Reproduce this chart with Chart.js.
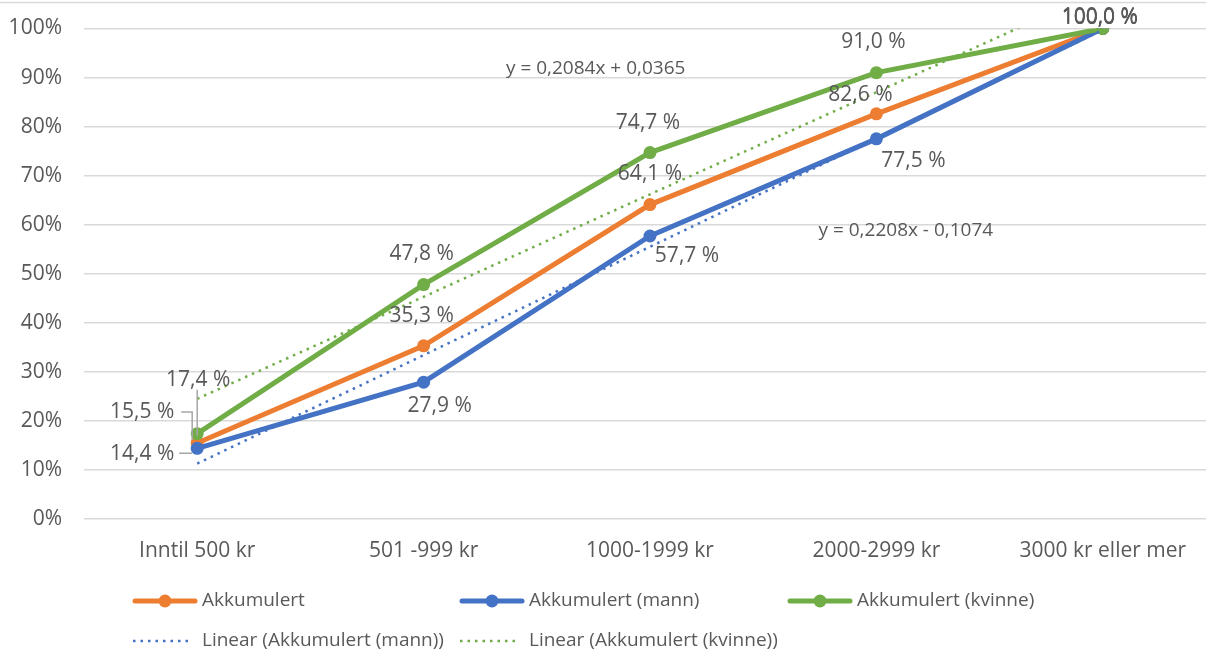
<!DOCTYPE html>
<html>
<head>
<meta charset="utf-8">
<script src="https://cdn.jsdelivr.net/npm/chart.js@4"></script>
<style>
html,body{margin:0;padding:0;background:#fff;overflow:hidden;}
#wrap{width:1216px;height:653px;}
</style>
</head>
<body>
<div id="wrap"><canvas id="c" width="1216" height="653"></canvas></div>
<script>
const categories = ['Inntil 500 kr', '501 -999 kr', '1000-1999 kr', '2000-2999 kr', '3000 kr eller mer'];
const akkumulert = [15.5, 35.3, 64.1, 82.6, 100.0];
const akkMann = [14.4, 27.9, 57.7, 77.5, 100.0];
const akkKvinne = [17.4, 47.8, 74.7, 91.0, 100.0];
const trendMann = [11.3, 33.4, 55.5, 77.6, 99.7];
const trendKvinne = [24.5, 45.3, 66.2, 87.0, 107.9];
const yTicks = [0, 10, 20, 30, 40, 50, 60, 70, 80, 90, 100];
const eqMann = 'y = 0,2208x - 0,1074';
const eqKvinne = 'y = 0,2084x + 0,0365';

const ORANGE = '#ED7D31', BLUE = '#4472C4', GREEN = '#70AD47', TXT = '#595959', GRID = '#D9D9D9';
const FONT = '"Open Sans", sans-serif';

// label offsets (px) relative to each point, per dataset
const labelOffsets = {
  0: [[-55, -31], [-2, -30], [0, -31], [-16, -19], [-3, -11]],
  1: [[-55, 6], [16, 24], [37, 20], [37, 22], [-3, -10]],
  2: [[1, -54], [-2, -31], [-2, -30], [-3, -31], [-3, -10]]
};

const fmt = v => v.toFixed(1).replace('.', ',') + ' %';
const noPad = s => {
  s._calculatePadding = function () { this.paddingLeft = 0; this.paddingRight = 0; this.paddingTop = 0; this.paddingBottom = 0; };
};

const labelPlugin = {
  id: 'labels',
  afterDatasetsDraw(chart) {
    const ctx = chart.ctx;
    ctx.save();
    // top border line
    ctx.strokeStyle = GRID; ctx.lineWidth = 1.5;
    ctx.beginPath(); ctx.moveTo(0, 2.5); ctx.lineTo(chart.width, 2.5); ctx.stroke();

    ctx.font = '21px ' + FONT;
    ctx.fillStyle = TXT;
    ctx.textAlign = 'center';
    ctx.textBaseline = 'middle';
    [0, 1, 2].forEach(di => {
      const meta = chart.getDatasetMeta(di);
      meta.data.forEach((pt, i) => {
        const [dx, dy] = labelOffsets[di][i];
        const v = chart.data.datasets[di].data[i];
        ctx.fillText(fmt(v), pt.x + dx, pt.y + dy);
      });
    });
    // leader lines at first category
    const p0 = chart.getDatasetMeta(0).data[0];
    const p1 = chart.getDatasetMeta(1).data[0];
    const p2 = chart.getDatasetMeta(2).data[0];
    ctx.strokeStyle = '#A6A6A6'; ctx.lineWidth = 1.5;
    ctx.beginPath();
    ctx.moveTo(p0.x - 16, p0.y - 31); ctx.lineTo(p0.x - 5, p0.y - 31); ctx.lineTo(p0.x - 5, p0.y - 3);
    ctx.moveTo(p1.x - 18, p1.y + 5); ctx.lineTo(p1.x - 5, p1.y + 5);
    ctx.moveTo(p2.x, p2.y - 44); ctx.lineTo(p2.x, p2.y + 2);
    ctx.stroke();

    // trendline equations
    const xs = chart.scales.x, ys = chart.scales.y;
    ctx.font = '19px ' + FONT;
    ctx.fillStyle = TXT;
    ctx.fillText(eqKvinne, xs.getPixelForValue(1.76), ys.getPixelForValue(91.8));
    ctx.fillText(eqMann, xs.getPixelForValue(3.13), ys.getPixelForValue(58.8));

    // legend
    const legend = [
      {x: 133, y: 601, text: 'Akkumulert', color: ORANGE, dotted: false},
      {x: 460, y: 601, text: 'Akkumulert (mann)', color: BLUE, dotted: false},
      {x: 788, y: 601, text: 'Akkumulert (kvinne)', color: GREEN, dotted: false},
      {x: 133, y: 641, text: 'Linear (Akkumulert (mann))', color: BLUE, dotted: true},
      {x: 460, y: 641, text: 'Linear (Akkumulert (kvinne))', color: GREEN, dotted: true}
    ];
    legend.forEach(l => {
      ctx.strokeStyle = l.color;
      if (l.dotted) {
        ctx.lineWidth = 2.5; ctx.setLineDash([2.5, 5]); ctx.lineCap = 'butt';
        ctx.beginPath(); ctx.moveTo(l.x, l.y); ctx.lineTo(l.x + 60, l.y); ctx.stroke();
        ctx.setLineDash([]);
      } else {
        ctx.lineWidth = 5; ctx.lineCap = 'round';
        ctx.beginPath(); ctx.moveTo(l.x + 2, l.y); ctx.lineTo(l.x + 62, l.y); ctx.stroke();
        ctx.fillStyle = l.color;
        ctx.beginPath(); ctx.arc(l.x + 32, l.y, 6.5, 0, Math.PI * 2); ctx.fill();
      }
      ctx.fillStyle = TXT; ctx.font = '19px ' + FONT; ctx.textAlign = 'left';
      ctx.fillText(l.text, l.x + 69, l.y);
    });
    ctx.restore();
  }
};

new Chart(document.getElementById('c'), {
  type: 'line',
  data: {
    labels: categories,
    datasets: [
      {label: 'Akkumulert', data: akkumulert, borderColor: ORANGE, backgroundColor: ORANGE, borderWidth: 5, pointRadius: 6.5, pointBorderWidth: 0, order: 2},
      {label: 'Akkumulert (mann)', data: akkMann, borderColor: BLUE, backgroundColor: BLUE, borderWidth: 5, pointRadius: 6.5, pointBorderWidth: 0, order: 1},
      {label: 'Akkumulert (kvinne)', data: akkKvinne, borderColor: GREEN, backgroundColor: GREEN, borderWidth: 5, pointRadius: 6.5, pointBorderWidth: 0, order: 0},
      {label: 'Linear (Akkumulert (mann))', data: trendMann, borderColor: BLUE, borderWidth: 2.5, borderDash: [2.5, 5], pointRadius: 0, order: -1},
      {label: 'Linear (Akkumulert (kvinne))', data: trendKvinne, borderColor: GREEN, borderWidth: 2.5, borderDash: [2.5, 5], pointRadius: 0, order: -1}
    ]
  },
  options: {
    responsive: false,
    animation: false,
    layout: {autoPadding: false, padding: {top: 28.5, left: 0, right: 0, bottom: 0}},
    plugins: {legend: {display: false}, tooltip: {enabled: false}},
    elements: {line: {tension: 0}},
    scales: {
      y: {
        min: 0, max: 100,
        beforeFit: noPad,
        afterBuildTicks: s => { s.ticks = yTicks.map(v => ({value: v})); },
        afterFit: s => { s.width = 84; s.paddingTop = 0; s.paddingBottom = 0; },
        ticks: {callback: v => v + '%', color: TXT, font: {family: FONT, size: 21}, padding: 22},
        grid: {color: GRID, lineWidth: 1.5, drawTicks: false},
        border: {display: false}
      },
      x: {
        offset: true,
        beforeFit: noPad,
        afterFit: s => { s.height = 134; s.paddingLeft = 0; s.paddingRight = 0; },
        ticks: {color: TXT, font: {family: FONT, size: 21}, padding: 19, maxRotation: 0},
        grid: {display: false, drawTicks: false},
        border: {display: false}
      }
    }
  },
  plugins: [labelPlugin]
});
</script>
</body>
</html>
